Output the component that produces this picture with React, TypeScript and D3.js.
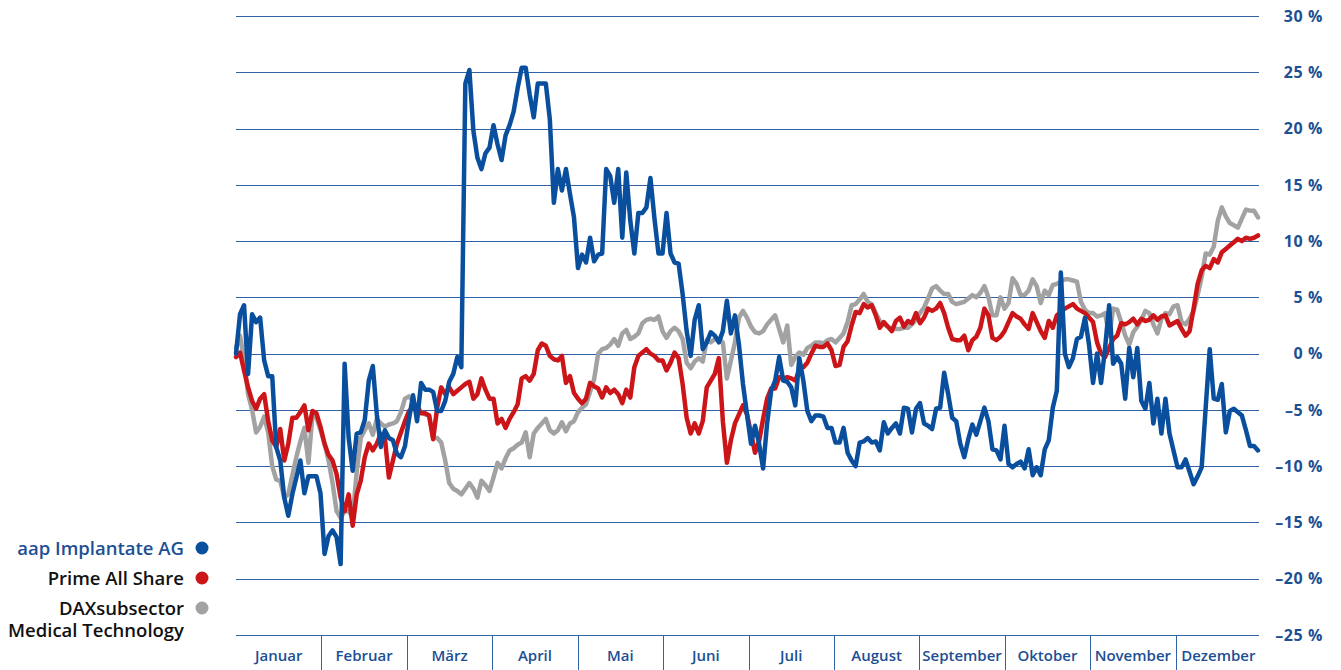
import React from 'react';
import * as d3 from 'd3';

const months = ['Januar', 'Februar', 'März', 'April', 'Mai', 'Juni', 'Juli', 'August', 'September', 'Oktober', 'November', 'Dezember'];
const yTicks = [30, 25, 20, 15, 10, 5, 0, -5, -10, -15, -20, -25];

// daily performance in % (trading days of the year)
const aapImplantate = [
  0, 3.5, 4.3, -1.8, 3.5, 2.8, 3.2, -0.6, -2.0, -2.0,
  -8.3, -9.5, -12.8, -14.4, -12.5, -11.0, -9.5, -12.4, -10.9, -10.9,
  -10.9, -12.4, -17.8, -16.2, -15.7, -16.3, -18.7, -0.9, -7.5, -10.4,
  -7.1, -7.0, -5.9, -2.4, -1.1, -5.4, -8.3, -6.8, -7.5, -7.7,
  -8.9, -9.2, -8.2, -5.8, -3.7, -6.0, -2.6, -3.2, -3.2, -3.4,
  -5.1, -5.1, -4.2, -2.5, -1.8, -0.3, -1.2, 24.0, 25.2, 19.8,
  17.4, 16.4, 17.8, 18.3, 20.3, 18.6, 17.2, 19.4, 20.3, 21.5,
  23.6, 25.4, 25.4, 23.0, 21.0, 24.0, 24.0, 24.0, 20.8, 13.4,
  16.4, 14.5, 16.4, 14.2, 12.1, 7.6, 8.8, 8.1, 10.3, 8.2,
  8.8, 8.9, 16.4, 15.8, 13.4, 16.4, 10.3, 16.1, 11.8, 8.9,
  12.5, 12.5, 13.0, 15.6, 12.0, 8.9, 8.9, 12.5, 8.9, 8.1,
  8.0, 5.3, 2.0, -0.2, 3.0, 4.3, 0.4, 1.0, 1.9, 1.6,
  1.0, 2.0, 4.7, 1.8, 3.4, 0.8, -2.7, -5.4, -8.0, -6.4,
  -8.0, -10.2, -6.2, -3.3, -2.4, -0.3, -2.4, -2.5, -3.0, -4.6,
  -0.4, -2.4, -5.1, -6.0, -5.5, -5.5, -5.6, -6.6, -6.6, -7.9,
  -7.9, -6.6, -8.8, -9.5, -10.0, -7.9, -7.8, -7.5, -7.9, -7.8,
  -8.6, -6.1, -7.1, -6.6, -6.2, -7.1, -4.8, -4.9, -7.0, -4.9,
  -4.4, -6.2, -6.4, -6.7, -4.9, -4.8, -1.7, -3.6, -5.7, -6.0,
  -8.0, -9.2, -7.6, -6.3, -7.2, -6.0, -4.8, -6.0, -8.5, -8.6,
  -9.4, -6.4, -9.8, -10.1, -9.8, -9.6, -10.2, -8.5, -10.8, -10.1,
  -10.8, -8.5, -7.7, -4.8, -3.3, 7.2, 0.0, -1.2, -0.4, 1.3,
  1.5, 3.2, 0.8, -2.6, 0.0, -2.6, 0.5, 4.3, -0.9, -0.3,
  -0.9, -4.0, 0.5, -2.1, 0.5, -4.2, -4.9, -2.6, -6.2, -4.0,
  -7.1, -4.0, -7.1, -8.6, -10.1, -10.1, -9.4, -10.5, -11.6, -10.9,
  -10.1, -4.8, 0.4, -4.0, -4.1, -2.7, -7.0, -5.1, -4.9, -5.2,
  -5.5, -6.8, -8.2, -8.2, -8.6,
];

const primeAllShare = [
  -0.3, 0.1, -1.5, -3.0, -4.2, -4.9, -4.0, -3.6, -6.0, -7.7,
  -8.3, -6.7, -9.5, -8.0, -5.7, -5.7, -5.2, -4.6, -6.8, -5.1,
  -5.3, -6.5, -8.0, -9.0, -9.5, -10.7, -12.8, -14.0, -12.5, -15.3,
  -12.5, -11.3, -9.2, -8.0, -8.6, -8.0, -7.1, -7.5, -11.0, -9.5,
  -8.0, -7.0, -6.0, -5.1, -4.8, -4.6, -5.3, -5.3, -5.5, -7.6,
  -4.8, -3.0, -3.6, -3.0, -3.6, -3.3, -3.0, -2.7, -2.5, -4.0,
  -3.6, -2.2, -3.2, -4.0, -4.0, -6.2, -5.8, -6.6, -5.8, -5.2,
  -4.5, -2.2, -2.0, -2.4, -1.8, 0.3, 0.9, 0.7, -0.2, -0.5,
  -0.6, -0.2, -2.6, -2.0, -3.5, -4.0, -4.4, -4.0, -2.6, -2.9,
  -3.1, -3.9, -3.0, -3.5, -3.2, -3.6, -4.4, -3.2, -3.9, -1.2,
  -0.2, 0.1, 0.4, 0.0, -0.2, -0.6, -0.6, -1.5, -0.8, 0.1,
  -0.4, -2.7, -5.7, -7.1, -6.2, -7.1, -6.0, -3.0, -2.4, -1.8,
  -0.4, -6.0, -9.7, -7.7, -6.2, -5.4, -4.6, -5.4, -7.1, -8.8,
  -7.8, -5.8, -4.0, -3.1, -3.1, -2.1, -2.2, -2.1, -2.2, -2.4,
  -1.4, -1.2, -0.8, 0.0, 0.7, 0.6, 0.6, 0.9, 0.3, -1.1,
  -1.0, 0.6, 1.1, 2.5, 3.7, 3.6, 4.4, 4.1, 4.3, 3.4,
  2.3, 2.8, 2.4, 2.0, 2.9, 3.2, 2.4, 2.9, 2.7, 3.6,
  2.7, 3.2, 4.0, 3.8, 4.0, 4.5, 3.6, 2.3, 1.3, 1.2,
  1.2, 1.6, 0.3, 1.2, 1.5, 2.3, 4.0, 3.4, 1.4, 1.2,
  1.5, 2.0, 2.8, 3.6, 3.3, 3.1, 2.6, 2.2, 3.6, 2.8,
  2.0, 1.4, 2.9, 2.3, 3.4, 3.7, 4.0, 4.2, 4.4, 4.0,
  3.8, 3.6, 3.2, 2.8, 1.0, 0.0, -0.3, 0.5, 1.3, 1.6,
  2.7, 2.6, 2.8, 3.1, 2.6, 3.1, 2.9, 3.0, 3.4, 3.0,
  3.3, 3.4, 2.5, 2.7, 2.9, 2.2, 1.6, 2.0, 4.0, 6.2,
  7.4, 7.8, 7.6, 8.4, 8.1, 9.0, 9.3, 9.6, 9.9, 10.2,
  10.0, 10.3, 10.2, 10.3, 10.5,
];

const daxMedTech = [
  0.5, 1.6, -0.5, -3.6, -5.0, -7.0, -6.5, -5.6, -7.0, -10.0,
  -11.2, -11.3, -12.8, -12.5, -10.8, -9.2, -7.8, -6.6, -9.7, -5.5,
  -5.7, -6.8, -8.0, -9.5, -11.5, -14.0, -14.6, -14.0, -14.0, -14.5,
  -10.5, -7.5, -6.8, -6.2, -7.2, -5.8, -6.2, -6.5, -6.3, -6.2,
  -6.0, -5.2, -4.0, -3.8, -4.2, -5.0, -5.2, -5.4, -5.5, -7.5,
  -7.5, -7.9, -9.5, -11.5, -12.0, -12.2, -12.5, -12.0, -11.5, -12.0,
  -12.8, -11.3, -11.7, -12.2, -11.0, -9.7, -10.2, -9.3, -8.6, -8.4,
  -8.1, -7.9, -7.0, -9.2, -7.1, -6.6, -6.2, -5.8, -6.8, -7.1,
  -6.8, -6.1, -6.9, -6.2, -6.0, -5.2, -4.8, -4.5, -3.4, -2.3,
  0.0, 0.4, 0.5, 0.8, 1.3, 0.7, 1.8, 2.1, 1.3, 1.5,
  1.8, 2.7, 3.0, 3.1, 3.0, 3.3, 2.0, 1.4, 2.0, 2.3,
  2.0, 1.3, -0.8, -1.3, -0.7, -0.4, -0.7, 1.2, 1.0, 1.3,
  1.3, 1.0, -2.2, -0.6, 1.0, 3.2, 3.8, 3.2, 2.4, 1.9,
  1.8, 2.0, 2.6, 3.0, 3.4, 2.2, 1.0, 2.5, -1.0, -0.3,
  0.1, -0.1, 0.5, 0.7, 1.0, 1.0, 0.9, 1.2, 1.3, 1.0,
  1.4, 1.8, 2.8, 4.3, 4.4, 4.8, 5.3, 4.6, 4.4, 3.6,
  2.9, 2.6, 2.4, 2.2, 2.2, 2.2, 2.3, 2.3, 2.6, 3.0,
  3.6, 4.1, 4.9, 5.8, 6.0, 5.6, 5.3, 5.3, 4.6, 4.4,
  4.5, 4.6, 4.9, 5.2, 5.0, 5.4, 6.0, 5.0, 3.4, 3.4,
  5.0, 4.0, 4.5, 6.7, 6.2, 5.2, 5.2, 5.6, 6.6, 6.0,
  4.5, 5.6, 5.2, 6.1, 6.2, 6.4, 6.6, 6.6, 6.5, 6.4,
  4.6, 3.9, 3.6, 3.6, 3.3, 3.4, 3.6, 1.6, 4.0, 3.9,
  2.8, 1.6, 0.8, 1.9, 2.4, 3.0, 3.8, 3.6, 2.6, 1.8,
  3.1, 3.6, 3.5, 4.2, 4.3, 2.8, 2.6, 3.1, 3.8, 5.2,
  6.8, 8.9, 8.8, 9.5, 11.8, 13.0, 12.2, 11.6, 11.4, 11.2,
  12.0, 12.8, 12.7, 12.7, 12.1,
];

const legendLabels = [
  ['aap Implantate AG'],
  ['Prime All Share'],
  ['DAXsubsector', 'Medical Technology'],
];

const COLORS = { blue: '#0a4f9e', red: '#cc1518', gray: '#a2a2a2', grid: '#2f63a6', text: '#1d4f93' };
const FONT = '"Open Sans", Lato, sans-serif';

export default function App() {
  const W = 1341;
  const H = 670;
  const x = d3.scaleLinear().domain([0, aapImplantate.length - 1]).range([236, 1258]);
  const y = d3.scaleLinear().domain([-25, 30]).range([635, 16]);
  const mb = d3.scaleBand<string>().domain(months).range([236, 1261]).padding(0);
  const line = d3.line<number>().x((_, i) => x(i)).y((d) => y(d));

  const series = [
    { data: daxMedTech, color: COLORS.gray },
    { data: primeAllShare, color: COLORS.red },
    { data: aapImplantate, color: COLORS.blue },
  ];
  const legendColors = [COLORS.blue, COLORS.red, COLORS.gray];
  const legendTextColors = [COLORS.text, '#111', '#111'];
  const legendY = [548, 578, 608];

  const fmt = (v: number) => (v < 0 ? '–' + Math.abs(v) : String(v)) + ' %';

  return (
    <svg width={W} height={H} style={{ position: 'absolute', left: 0, top: 0, background: '#fff' }} fontFamily={FONT}>
      {yTicks.map((t) => (
        <g key={t}>
          <line x1={236} x2={1259} y1={Math.round(y(t)) + 0.5} y2={Math.round(y(t)) + 0.5} stroke={COLORS.grid} strokeWidth={1} />
          <text x={1323} y={y(t)} dy="0.36em" textAnchor="end" fontSize={16} fontWeight={700} letterSpacing={0.6} fill={COLORS.text}>
            {fmt(t)}
          </text>
        </g>
      ))}
      {months.slice(1).map((m) => (
        <line key={m} x1={Math.round(mb(m)!) + 0.5} x2={Math.round(mb(m)!) + 0.5} y1={y(-25)} y2={H} stroke={COLORS.grid} strokeWidth={1} />
      ))}
      {months.map((m) => (
        <text key={m} x={mb(m)! + mb.bandwidth() / 2} y={661} textAnchor="middle" fontSize={15} fontWeight={600} fill={COLORS.text}>
          {m}
        </text>
      ))}
      {series.map((s, i) => (
        <path key={i} d={line(s.data) || ''} fill="none" stroke={s.color} strokeWidth={4.5} strokeLinejoin="round" strokeLinecap="round" />
      ))}
      {legendLabels.map((lines, i) => (
        <g key={i}>
          <text x={184} y={legendY[i] + 7} textAnchor="end" fontSize={18.5} fontWeight={600} fill={legendTextColors[i]}>
            {lines.map((l, j) => (
              <tspan key={j} x={184} dy={j === 0 ? 0 : 22}>
                {l}
              </tspan>
            ))}
          </text>
          <circle cx={202} cy={legendY[i]} r={6.5} fill={legendColors[i]} />
        </g>
      ))}
    </svg>
  );
}
